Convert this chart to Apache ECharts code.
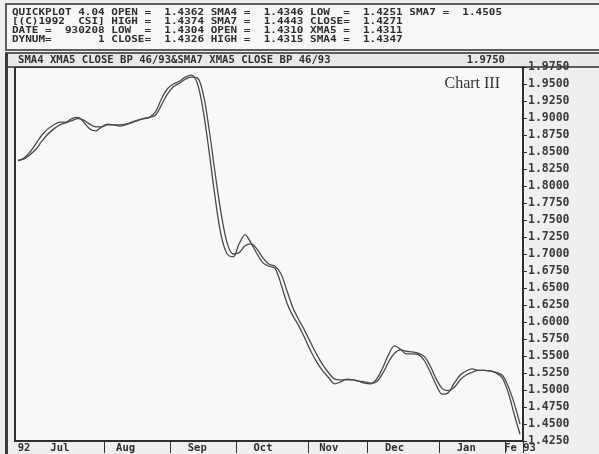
<!DOCTYPE html>
<html>
<head>
<meta charset="utf-8">
<script src="https://cdn.jsdelivr.net/npm/echarts@6/dist/echarts.min.js"></script>
<style>
  html, body { margin: 0; padding: 0; background: #efefef; }
  #box { width: 599px; height: 454px; }
</style>
</head>
<body>
<div id="box"></div>
<script>
// two moving averages, one point every ~2 trading days, mid-Jun 92 .. 8 Feb 93
const sma4 = [
  1.837, 1.841, 1.850, 1.862, 1.875, 1.884, 1.890, 1.894, 1.894, 1.899,
  1.901, 1.894, 1.884, 1.881, 1.887, 1.891, 1.890, 1.888, 1.890, 1.894,
  1.897, 1.899, 1.901, 1.909, 1.928, 1.943, 1.950, 1.954, 1.960, 1.963,
  1.951, 1.910, 1.849, 1.782, 1.727, 1.700, 1.696, 1.715, 1.728, 1.716,
  1.700, 1.687, 1.682, 1.679, 1.656, 1.628, 1.609, 1.594, 1.576, 1.557,
  1.541, 1.528, 1.518, 1.509, 1.512, 1.516, 1.515, 1.513, 1.510, 1.509,
  1.516, 1.532, 1.552, 1.565, 1.560, 1.553, 1.553, 1.552, 1.543, 1.526,
  1.507, 1.494, 1.496, 1.510, 1.522, 1.528, 1.531, 1.529, 1.529, 1.528,
  1.525, 1.518, 1.497, 1.465, 1.435
];
const sma7 = [
  1.838, 1.840, 1.846, 1.854, 1.866, 1.876, 1.884, 1.890, 1.893, 1.896,
  1.899, 1.897, 1.891, 1.887, 1.887, 1.890, 1.890, 1.890, 1.891, 1.893,
  1.896, 1.899, 1.901, 1.904, 1.919, 1.935, 1.946, 1.951, 1.957, 1.960,
  1.959, 1.935, 1.882, 1.818, 1.759, 1.716, 1.700, 1.702, 1.712, 1.715,
  1.707, 1.694, 1.685, 1.682, 1.671, 1.646, 1.621, 1.603, 1.587, 1.569,
  1.552, 1.537, 1.525, 1.516, 1.515, 1.515, 1.515, 1.513, 1.512, 1.510,
  1.512, 1.524, 1.541, 1.554, 1.559, 1.557, 1.556, 1.554, 1.549, 1.535,
  1.516, 1.502, 1.499, 1.504, 1.515, 1.522, 1.526, 1.529, 1.529, 1.528,
  1.526, 1.522, 1.506, 1.481, 1.450
];
// month boxes on the time strip
const monthStarts = [15, 26, 37, 49, 59, 71, 82];
const monthNames = ["92", "Jul", "Aug", "Sep", "Oct", "Nov", "Dec", "Jan", "Fe 93"];
const monthLabelAt = [1, 7, 18, 30, 41, 52, 63, 75, 84];

const headerLines = [
  "QUICKPLOT 4.04 OPEN =  1.4362 SMA4 =  1.4346 LOW  =  1.4251 SMA7 =  1.4505",
  "[(C)1992  CSI] HIGH =  1.4374 SMA7 =  1.4443 CLOSE=  1.4271",
  "DATE =  930208 LOW  =  1.4304 OPEN =  1.4310 XMA5 =  1.4311",
  "DYNUM=       1 CLOSE=  1.4326 HIGH =  1.4315 SMA4 =  1.4347"
];
const titleText = "SMA4 XMA5 CLOSE BP 46/93&SMA7 XMA5 CLOSE BP 46/93";

const categories = sma4.map((v, i) => {
  const k = monthLabelAt.indexOf(i);
  return k >= 0 ? monthNames[k] : "";
});

const mono = "'DejaVu Sans Mono', 'Liberation Mono', monospace";
const ink = "#2e2e2e";

const myChart = echarts.init(document.getElementById("box"));

const graphics = [
  // header box
  { type: "rect", shape: { x: 6, y: 4, width: 600, height: 46 },
    style: { fill: "#f6f6f6", stroke: ink, lineWidth: 1.5 }, z: 0 },
  // title strip
  { type: "rect", shape: { x: 6, y: 53, width: 600, height: 14 },
    style: { fill: "#e8e8e8", stroke: ink, lineWidth: 1.5 }, z: 0 },
  // outer left rule
  { type: "rect", shape: { x: 5, y: 53, width: 3, height: 401 },
    style: { fill: "#3a3a3a" }, z: 1 },
  { type: "text", x: 18, y: 60,
    style: { text: titleText, font: "bold 10.6px " + mono, fill: ink, verticalAlign: "middle" }, z: 5 },
  { type: "text", x: 505, y: 60,
    style: { text: "1.9750", font: "bold 10.6px " + mono, fill: ink, align: "right", verticalAlign: "middle" }, z: 5 },
  { type: "text", x: 500, y: 84,
    style: { text: "Chart III", font: "16px 'Liberation Serif', 'DejaVu Serif', serif", fill: "#333", align: "right", verticalAlign: "middle" }, z: 5 }
];
headerLines.forEach((line, i) => {
  graphics.push({
    type: "text", x: 12, y: 13 + i * 9, scaleY: 0.85,
    style: { text: line, font: "bold 11px " + mono, fill: ink, verticalAlign: "middle" }, z: 5
  });
});

myChart.setOption({
  animation: false,
  backgroundColor: "#efefef",
  grid: {
    left: 15,
    right: 76,
    top: 67,
    bottom: 11,
    show: true,
    backgroundColor: "#f8f8f8",
    borderColor: ink,
    borderWidth: 2,
  },
  xAxis: {
    type: "category",
    data: categories,
    boundaryGap: true,
    axisLine: { show: true, lineStyle: { color: ink, width: 2 } },
    axisTick: {
      show: true,
      length: 12,
      interval: (i) => monthStarts.indexOf(i) >= 0,
      lineStyle: { color: ink, width: 1 },
    },
    axisLabel: {
      interval: 0,
      margin: 2,
      fontFamily: mono,
      fontWeight: "bold",
      fontSize: 10.5,
      color: ink,
    },
    splitLine: { show: false },
  },
  yAxis: {
    type: "value",
    position: "right",
    min: 1.425,
    max: 1.975,
    interval: 0.025,
    axisLine: { show: true, lineStyle: { color: ink, width: 1.5 } },
    axisTick: { show: true, length: 4, lineStyle: { color: ink } },
    axisLabel: {
      margin: 5,
      fontFamily: mono,
      fontWeight: "bold",
      fontSize: 11.5,
      color: "#3a3a3a",
      formatter: (v) => v.toFixed(4),
    },
    splitLine: { show: false },
  },
  series: [
    {
      name: "SMA4",
      type: "line",
      data: sma4,
      smooth: 0.35,
      symbol: "none",
      lineStyle: { color: "#4a4a4a", width: 1.3 },
    },
    {
      name: "SMA7",
      type: "line",
      data: sma7,
      smooth: 0.35,
      symbol: "none",
      lineStyle: { color: "#4a4a4a", width: 1.3 },
    },
  ],
  graphic: graphics,
});
</script>
</body>
</html>
